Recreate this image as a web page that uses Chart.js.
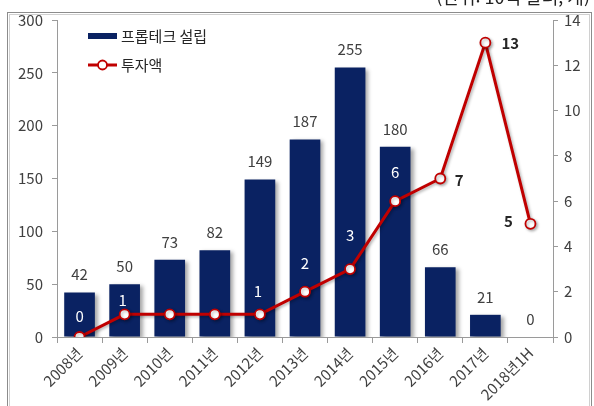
<!DOCTYPE html>
<html lang="ko">
<head>
<meta charset="utf-8">
<title>프롭테크 설립 및 투자액</title>
<script src="https://cdn.jsdelivr.net/npm/chart.js@4/dist/chart.umd.min.js"></script>
<style>
  html, body { margin: 0; padding: 0; background: #ffffff; }
  #wrap { position: relative; width: 594px; height: 406px; overflow: hidden; }
  canvas { display: block; }
</style>
</head>
<body>
<div id="wrap"><canvas id="chart" width="594" height="406"></canvas></div>
<script>
// Categories (years) and series
const years = ['2008년', '2009년', '2010년', '2011년', '2012년', '2013년', '2014년', '2015년', '2016년', '2017년', '2018년1H'];
const founded = [42, 50, 73, 82, 149, 187, 255, 180, 66, 21, 0];      // 프롭테크 설립 (개)
const investment = [0, 1, 1, 1, 1, 2, 3, 6, 7, 13, 5];                 // 투자액 (10억 달러)
const leftTicks = [0, 50, 100, 150, 200, 250, 300];
const rightTicks = [0, 2, 4, 6, 8, 10, 12, 14];

const seriesNames = ['프롭테크 설립', '투자액'];
const unitNote = '(단위: 10억 달러, 개)';

const NAVY = '#0a2262';
const RED = '#c00000';
const AXIS = '#9a9a9a';
const TEXT = '#404040';
const FONT = "'Noto Sans CJK KR', 'Open Sans', sans-serif";

// where each investment label sits relative to its point (null = no label)
const investLabelPlace = [
  { dx: 0, dy: -21, white: true },
  { dx: -2, dy: -14, white: true },
  null,
  null,
  { dx: -2, dy: -23, white: true },
  { dx: 0, dy: -28, white: true },
  { dx: 0, dy: -34, white: true },
  { dx: 0, dy: -29, white: true },
  { dx: 19, dy: 2, white: false },
  { dx: 25, dy: 1, white: false },
  { dx: -22, dy: -2, white: false }
];

// frame, clipped unit note and in-plot legend
const decorPlugin = {
  id: 'decor',
  beforeDraw(chart) {
    const ctx = chart.ctx;
    ctx.save();
    ctx.fillStyle = '#ffffff';
    ctx.fillRect(0, 0, chart.width, chart.height);
    ctx.strokeStyle = '#8c8c8c';
    ctx.lineWidth = 1;
    ctx.strokeRect(7.5, 12.5, 584, 410);
    ctx.strokeStyle = '#d0d0d0';
    ctx.strokeRect(9.5, 14.5, 580, 410);
    ctx.fillStyle = '#222222';
    ctx.font = '18px ' + FONT;
    ctx.textAlign = 'right';
    ctx.textBaseline = 'alphabetic';
    ctx.fillText(unitNote, 590, 4);
    ctx.restore();
  },
  afterDraw(chart) {
    const ctx = chart.ctx;
    ctx.save();
    // bar swatch
    ctx.fillStyle = NAVY;
    ctx.fillRect(88, 33, 29, 6);
    // line swatch
    ctx.strokeStyle = RED;
    ctx.lineWidth = 3;
    ctx.beginPath();
    ctx.moveTo(88, 65);
    ctx.lineTo(117, 65);
    ctx.stroke();
    ctx.beginPath();
    ctx.arc(102.5, 65, 4.5, 0, Math.PI * 2);
    ctx.fillStyle = '#ffffff';
    ctx.fill();
    ctx.lineWidth = 1.8;
    ctx.stroke();
    ctx.fillStyle = '#262626';
    ctx.font = '15px ' + FONT;
    ctx.textAlign = 'left';
    ctx.textBaseline = 'middle';
    ctx.fillText(seriesNames[0], 121, 36);
    ctx.fillText(seriesNames[1], 121, 65);
    ctx.restore();
  }
};

// soft drop shadow under bars and line
const shadowPlugin = {
  id: 'shadow',
  beforeDatasetDraw(chart, args) {
    const ctx = chart.ctx;
    ctx.save();
    if (args.index === 0) {
      ctx.shadowColor = 'rgba(0,0,0,0.35)';
      ctx.shadowBlur = 4;
      ctx.shadowOffsetX = 3;
      ctx.shadowOffsetY = 2;
    } else {
      ctx.shadowColor = 'rgba(0,0,0,0.3)';
      ctx.shadowBlur = 3;
      ctx.shadowOffsetX = 1.5;
      ctx.shadowOffsetY = 1.5;
    }
  },
  afterDatasetDraw(chart) {
    chart.ctx.restore();
  }
};

// value labels for both series
const labelPlugin = {
  id: 'valueLabels',
  afterDatasetsDraw(chart) {
    const ctx = chart.ctx;
    ctx.save();
    ctx.textAlign = 'center';
    ctx.textBaseline = 'middle';
    ctx.font = '15px ' + FONT;
    ctx.fillStyle = TEXT;
    chart.getDatasetMeta(0).data.forEach((el, i) => {
      ctx.fillText(String(founded[i]), el.x, el.y - 18);
    });
    chart.getDatasetMeta(1).data.forEach((el, i) => {
      const p = investLabelPlace[i];
      if (!p) return;
      if (p.white) {
        ctx.fillStyle = '#ffffff';
        ctx.font = '15px ' + FONT;
      } else {
        ctx.fillStyle = '#262626';
        ctx.font = 'bold 15px ' + FONT;
      }
      ctx.fillText(String(investment[i]), el.x + p.dx, el.y + p.dy);
    });
    ctx.restore();
  }
};

new Chart(document.getElementById('chart'), {
  data: {
    labels: years,
    datasets: [
      {
        type: 'bar',
        label: seriesNames[0],
        data: founded,
        yAxisID: 'y',
        backgroundColor: NAVY,
        borderWidth: 0,
        categoryPercentage: 0.68,
        barPercentage: 1.0,
        order: 2
      },
      {
        type: 'line',
        label: seriesNames[1],
        data: investment,
        yAxisID: 'y1',
        borderColor: RED,
        borderWidth: 3,
        pointRadius: 5,
        pointBorderWidth: 1.8,
        pointBackgroundColor: '#ffffff',
        pointBorderColor: RED,
        tension: 0,
        order: 1
      }
    ]
  },
  options: {
    responsive: false,
    animation: false,
    events: [],
    layout: { padding: { top: 20, left: 0, right: 0, bottom: 0 } },
    plugins: {
      legend: { display: false },
      tooltip: { enabled: false }
    },
    scales: {
      x: {
        offset: true,
        grid: { display: true, offset: true, drawOnChartArea: false, drawTicks: true, tickLength: 6, color: AXIS },
        border: { display: true, color: AXIS, width: 1 },
        ticks: {
          color: TEXT,
          font: { family: FONT, size: 15 },
          minRotation: 45,
          maxRotation: 45,
          padding: 1,
          autoSkip: false
        },
        afterFit(scale) { scale.height = 69; }
      },
      y: {
        position: 'left',
        min: 0,
        max: 300,
        afterBuildTicks(scale) { scale.ticks = leftTicks.map(v => ({ value: v })); },
        grid: { drawOnChartArea: false, drawTicks: true, tickLength: 5, color: AXIS },
        border: { display: true, color: AXIS, width: 1 },
        ticks: { color: TEXT, font: { family: FONT, size: 15 }, padding: 9 },
        afterFit(scale) { scale.width = 57; }
      },
      y1: {
        position: 'right',
        min: 0,
        max: 14,
        afterBuildTicks(scale) { scale.ticks = rightTicks.map(v => ({ value: v })); },
        grid: { drawOnChartArea: false, drawTicks: true, tickLength: 5, color: AXIS },
        border: { display: true, color: AXIS, width: 1 },
        ticks: { color: TEXT, font: { family: FONT, size: 15 }, padding: 6 },
        afterFit(scale) { scale.width = 41; }
      }
    }
  },
  plugins: [decorPlugin, shadowPlugin, labelPlugin]
});
</script>
</body>
</html>
